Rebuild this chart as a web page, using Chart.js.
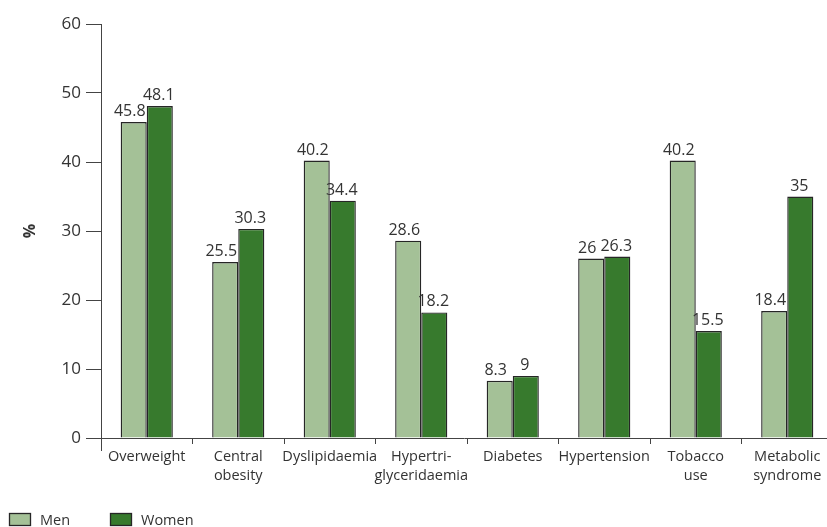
<!DOCTYPE html>
<html>
<head>
<meta charset="utf-8">
<script src="https://cdn.jsdelivr.net/npm/chart.js@4/dist/chart.umd.min.js"></script>
<style>
  html, body { margin: 0; padding: 0; background: #fff; }
  #wrap { width: 827px; height: 527px; position: relative; }
</style>
</head>
<body>
<div id="wrap"><canvas id="c"></canvas></div>
<script>
// Risk factor prevalence by sex (%)
const categories = [
  ['Overweight'],
  ['Central', 'obesity'],
  ['Dyslipidaemia'],
  ['Hypertri-', 'glyceridaemia'],
  ['Diabetes'],
  ['Hypertension'],
  ['Tobacco', 'use'],
  ['Metabolic', 'syndrome']
];
const men   = [45.8, 25.5, 40.2, 28.6, 8.3, 26, 40.2, 18.4];
const women = [48.1, 30.3, 34.4, 18.2, 9, 26.3, 15.5, 35];
const yTicks = [0, 10, 20, 30, 40, 50, 60];

const FONT = '"Open Sans", "DejaVu Sans", sans-serif';
const INK = '#333333';
const AXIS = '#444444';

// The category axis runs a little past the right edge of the canvas
const widenPlot = {
  id: 'widenPlot',
  afterLayout(chart) {
    const x = chart.scales.x;
    const extra = 6;
    x.right += extra;
    x.width += extra;
    chart.chartArea.right += extra;
    chart.chartArea.width += extra;
    x.configure();
  }
};

// Short extension of the value axis below the baseline
const axisFoot = {
  id: 'axisFoot',
  afterDraw(chart) {
    const ctx = chart.ctx;
    const a = chart.chartArea;
    const x = Math.round(a.left) + 0.5;
    ctx.save();
    ctx.strokeStyle = AXIS;
    ctx.lineWidth = 1;
    ctx.beginPath();
    ctx.moveTo(x, a.bottom);
    ctx.lineTo(x, a.bottom + 13);
    ctx.stroke();
    ctx.restore();
  }
};

// Value printed above each bar; the lighter series' labels sit slightly left
const valueLabels = {
  id: 'valueLabels',
  afterDatasetsDraw(chart) {
    const ctx = chart.ctx;
    const shift = [-4, -1];
    ctx.save();
    ctx.font = '16px ' + FONT;
    ctx.fillStyle = INK;
    ctx.textAlign = 'center';
    ctx.textBaseline = 'alphabetic';
    chart.data.datasets.forEach((ds, i) => {
      chart.getDatasetMeta(i).data.forEach((bar, j) => {
        ctx.fillText(String(ds.data[j]), bar.x + shift[i], bar.y - 6);
      });
    });
    ctx.restore();
  }
};

// Key in the lower-left corner
const sexKey = {
  id: 'sexKey',
  afterDraw(chart) {
    const ctx = chart.ctx;
    const starts = [9, 110];
    ctx.save();
    ctx.font = '14.5px ' + FONT;
    ctx.textBaseline = 'alphabetic';
    ctx.textAlign = 'left';
    chart.data.datasets.forEach((ds, i) => {
      const x = starts[i];
      ctx.fillStyle = ds.backgroundColor;
      ctx.fillRect(x, 513, 22, 13);
      ctx.strokeStyle = ds.borderColor;
      ctx.lineWidth = 1.3;
      ctx.strokeRect(x + 0.5, 513.5, 21, 12);
      ctx.fillStyle = INK;
      ctx.fillText(ds.label, x + 31, 525);
    });
    ctx.restore();
  }
};

new Chart(document.getElementById('c'), {
  type: 'bar',
  data: {
    labels: categories,
    datasets: [
      { label: 'Men', data: men, backgroundColor: '#a4c197', borderColor: '#262626', borderWidth: 1.4 },
      { label: 'Women', data: women, backgroundColor: '#377a2d', borderColor: '#262626', borderWidth: 1.4 }
    ]
  },
  options: {
    responsive: true,
    maintainAspectRatio: false,
    animation: false,
    layout: { padding: { top: 24, right: 0, bottom: 0, left: 0 } },
    datasets: { bar: { categoryPercentage: 0.57, barPercentage: 1.0 } },
    plugins: {
      legend: { display: false },
      tooltip: { enabled: false }
    },
    scales: {
      x: {
        offset: true,
        grid: { display: true, drawOnChartArea: false, drawTicks: true, tickLength: 6, color: AXIS, offset: true },
        border: { display: true, color: AXIS, width: 1 },
        ticks: {
          color: INK,
          padding: 3,
          maxRotation: 0,
          autoSkip: false,
          font: { family: FONT, size: 14.5, lineHeight: 1.35 }
        },
        afterFit(scale) { scale.height = 89; }
      },
      y: {
        min: 0,
        max: 60,
        afterBuildTicks(scale) { scale.ticks = yTicks.map(v => ({ value: v })); },
        grid: { display: true, drawOnChartArea: false, drawTicks: true, tickLength: 15, color: AXIS },
        border: { display: true, color: AXIS, width: 1 },
        ticks: {
          color: INK,
          padding: 5,
          font: { family: FONT, size: 17 }
        },
        title: {
          display: true,
          text: '%',
          color: INK,
          padding: { top: 21, bottom: 0 },
          font: { family: FONT, size: 16, weight: 'bold' }
        },
        afterFit(scale) { scale.width = 101; }
      }
    }
  },
  plugins: [widenPlot, valueLabels, axisFoot, sexKey]
});
</script>
</body>
</html>
